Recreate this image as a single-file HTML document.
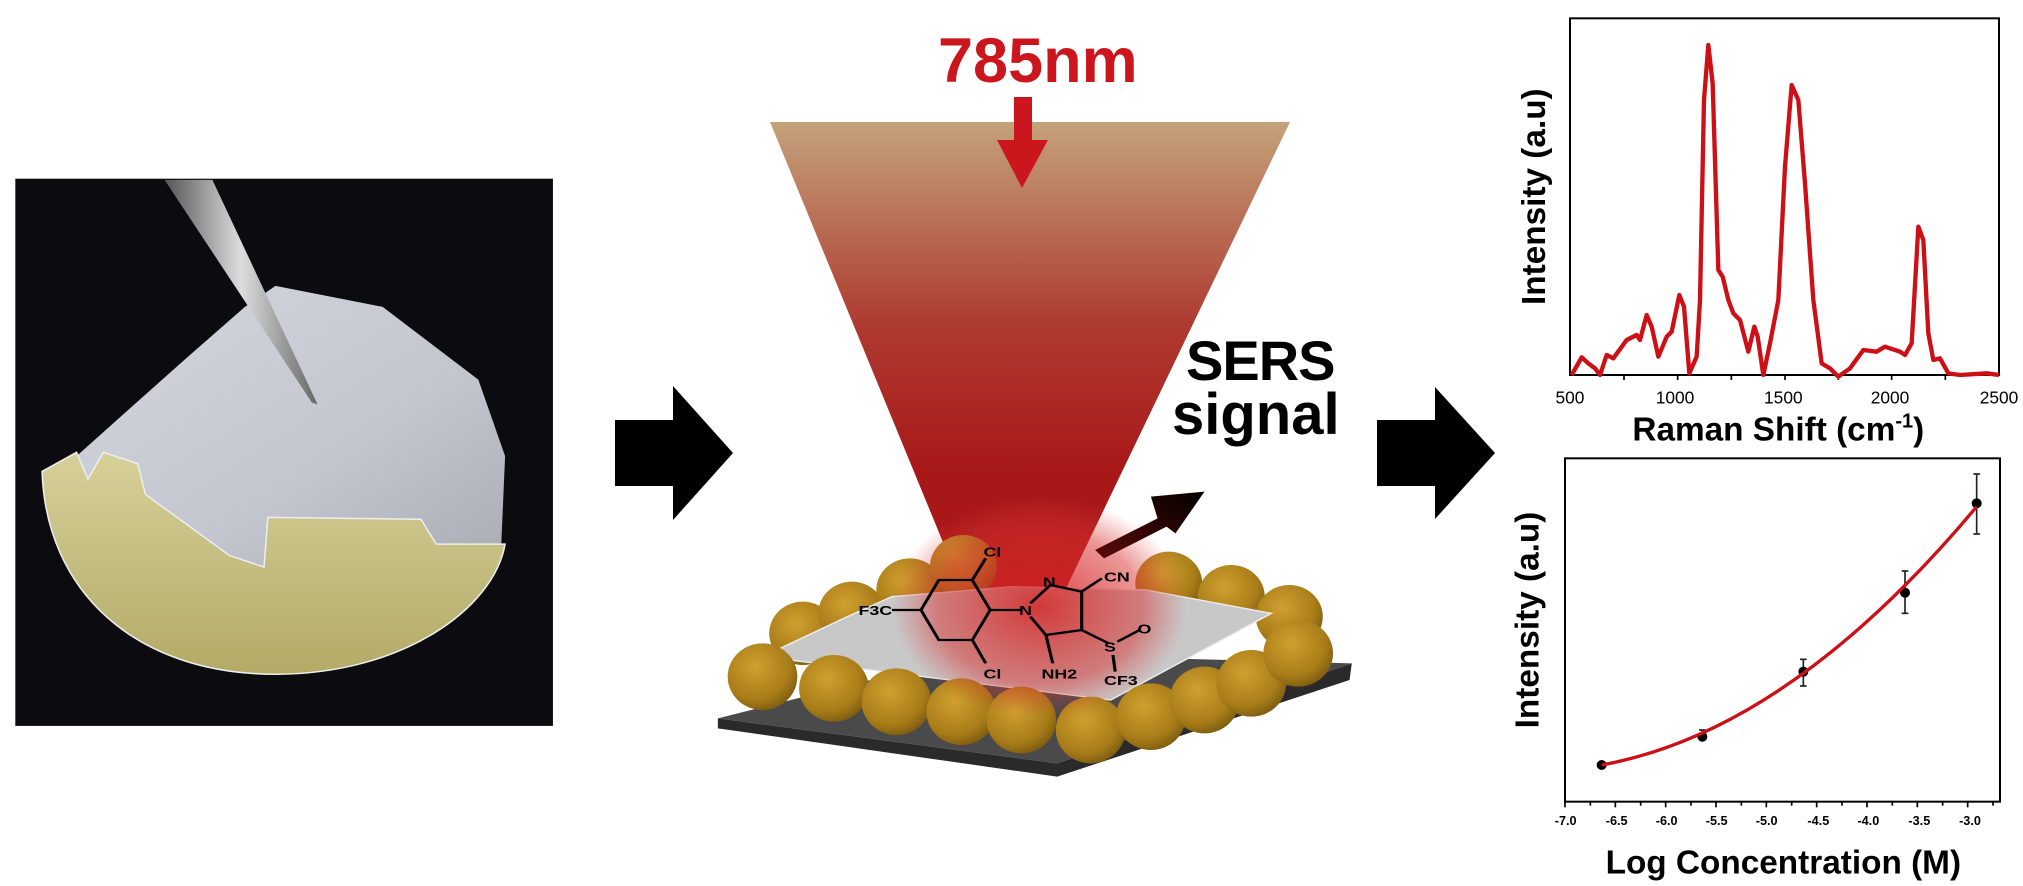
<!DOCTYPE html>
<html><head><meta charset="utf-8"><style>
html,body{margin:0;padding:0;background:#fff;}
body{width:2023px;height:886px;position:relative;overflow:hidden;font-family:"Liberation Sans",sans-serif;}
.abs{position:absolute;}
</style></head><body>

<!-- Photo -->
<svg class="abs" style="left:0;top:150px" width="600" height="600" viewBox="0 0 1568 1568">
<defs>
<linearGradient id="shell" x1="0" y1="0" x2="0" y2="1"><stop offset="0" stop-color="#d6d09a"/><stop offset="1" stop-color="#b3aa66"/></linearGradient>
<linearGradient id="mem" x1="0" y1="0" x2="1" y2="1"><stop offset="0" stop-color="#d4d7de"/><stop offset="0.6" stop-color="#c3c6cf"/><stop offset="1" stop-color="#a9acb5"/></linearGradient>
<linearGradient id="pen" x1="0" y1="0" x2="1" y2="0"><stop offset="0" stop-color="#555"/><stop offset="0.5" stop-color="#ddd"/><stop offset="1" stop-color="#666"/></linearGradient>
</defs>
<rect x="40" y="75" width="1405" height="1430" fill="#0b0b10"/>
<path d="M200,800 L480,550 L640,410 L720,355 L1000,410 L1250,600 L1320,800 L1310,1030 L1140,1030 L1100,965 L700,960 L690,1090 L600,1060 L380,900 L360,820 L270,790 L230,860 Z" fill="url(#mem)"/>
<path d="M110,840 L200,790 L230,860 L270,790 L360,820 L380,900 L600,1060 L690,1090 L700,960 L1100,965 L1140,1030 L1320,1030 C1290,1200 1050,1370 720,1370 C350,1370 120,1150 110,840 Z" fill="url(#shell)" stroke="#eee" stroke-width="4"/>
<polygon points="430,78 555,78 830,665 815,660" fill="url(#pen)"/>
</svg>

<!-- Big arrows -->
<svg class="abs" style="left:0;top:0" width="2023" height="886">
<polygon points="615,420 673,420 673,386 733,453 673,520 673,486 615,486" fill="#000"/>
<polygon points="1377,420 1435,420 1435,387 1495,453 1435,519 1435,486 1377,486" fill="#000"/>
<defs>
<linearGradient id="cone" gradientUnits="userSpaceOnUse" x1="0" y1="122" x2="0" y2="705"><stop offset="0" stop-color="#c4a27a"/><stop offset="0.35" stop-color="#ae3a30"/><stop offset="0.6" stop-color="#a81818"/><stop offset="1" stop-color="#b01418"/></linearGradient>
</defs>
<polygon points="770,122 1290,122 1010,705" fill="url(#cone)"/>
<rect x="1014" y="97" width="18" height="44" fill="#cc161d"/>
<polygon points="997,140 1048,140 1022,188" fill="#cc161d"/>
</svg>

<div class="abs" style="left:938px;top:30px;font-size:63px;font-weight:bold;color:#cc161d;line-height:1;">785nm</div>
<div class="abs" style="left:1186px;top:333px;font-size:56px;font-weight:bold;color:#000;line-height:1;letter-spacing:-1px;">SERS</div>
<div class="abs" style="left:1172px;top:386px;font-size:58px;font-weight:bold;color:#000;line-height:1;">signal</div>

<!-- Substrate scene (distorted frame) -->
<svg class="abs" style="left:700px;top:400px" width="700" height="380" viewBox="0 0 1568 1140" preserveAspectRatio="none">
<defs>
<radialGradient id="au" cx="0.4" cy="0.35" r="0.7"><stop offset="0" stop-color="#d0a030"/><stop offset="0.7" stop-color="#a87c18"/><stop offset="1" stop-color="#7a5a10"/></radialGradient>
<radialGradient id="glow" cx="0.5" cy="0.5" r="0.5"><stop offset="0" stop-color="#d42020" stop-opacity="0.85"/><stop offset="0.7" stop-color="#d83030" stop-opacity="0.5"/><stop offset="1" stop-color="#e04040" stop-opacity="0"/></radialGradient>
<linearGradient id="sarrow" x1="0" y1="1" x2="1" y2="0"><stop offset="0" stop-color="#5a0a0a"/><stop offset="1" stop-color="#000"/></linearGradient>
</defs>
<!-- slab -->
<polygon points="40,985 800,1130 1455,840 1460,790 800,1090 40,955" fill="#2a2a2a"/>
<polygon points="40,955 620,760 1460,790 800,1090" fill="#4a4a4a"/>
<!-- back spheres -->
<g fill="url(#au)">
<ellipse cx="230" cy="700" rx="75" ry="95"/>
<ellipse cx="340" cy="640" rx="75" ry="95"/>
<ellipse cx="470" cy="570" rx="75" ry="95"/>
<ellipse cx="590" cy="500" rx="75" ry="95"/>
<ellipse cx="1050" cy="550" rx="75" ry="95"/>
<ellipse cx="1190" cy="590" rx="75" ry="95"/>
<ellipse cx="1320" cy="650" rx="75" ry="95"/>
</g>
<polygon points="140,770 330,650 430,590 700,560 1000,570 1280,640 920,900" fill="#c8c8c8" stroke="#eee" stroke-width="4"/>
<g fill="url(#au)">
<ellipse cx="140" cy="830" rx="78" ry="100"/>
<ellipse cx="300" cy="865" rx="78" ry="100"/>
<ellipse cx="440" cy="905" rx="78" ry="100"/>
<ellipse cx="585" cy="935" rx="78" ry="100"/>
<ellipse cx="720" cy="960" rx="78" ry="100"/>
<ellipse cx="875" cy="990" rx="78" ry="100"/>
<ellipse cx="1010" cy="950" rx="78" ry="100"/>
<ellipse cx="1130" cy="900" rx="78" ry="100"/>
<ellipse cx="1235" cy="850" rx="78" ry="100"/>
<ellipse cx="1340" cy="760" rx="78" ry="100"/>
</g>
<ellipse cx="760" cy="620" rx="330" ry="330" fill="url(#glow)"/>
<!-- signal arrow -->
<polygon points="885,450 1025,355 1010,290 1130,275 1065,400 1045,380 905,475" fill="url(#sarrow)"/>
<!-- molecule -->
<g stroke="#000" stroke-width="7" fill="none">
<polygon points="535,540 610,540 650,630 610,720 535,720 495,630"/>
<line x1="610" y1="540" x2="640" y2="475"/>
<line x1="610" y1="720" x2="640" y2="790"/>
<line x1="495" y1="630" x2="430" y2="630"/>
<line x1="650" y1="630" x2="720" y2="630"/>
<polyline points="740,610 785,555 855,575 855,690 775,705 740,650"/>
<line x1="855" y1="575" x2="900" y2="535"/>
<line x1="855" y1="690" x2="915" y2="730"/>
<line x1="935" y1="725" x2="985" y2="690"/>
<line x1="925" y1="765" x2="930" y2="815"/>
<line x1="775" y1="705" x2="790" y2="790"/>
</g>
<g font-family="Liberation Sans,sans-serif" font-weight="bold" font-size="40" fill="#000">
<text x="635" y="470">Cl</text>
<text x="635" y="835">Cl</text>
<text x="355" y="645">F3C</text>
<text x="715" y="645">N</text>
<text x="768" y="560">N</text>
<text x="905" y="545">CN</text>
<text x="905" y="755">S</text>
<text x="980" y="700">O</text>
<text x="905" y="855">CF3</text>
<text x="765" y="835">NH2</text>
</g>
</svg>

<!-- Chart 1 -->
<svg class="abs" style="left:1500px;top:0" width="523" height="450" viewBox="0 0 1569 1350" font-family="Liberation Sans,sans-serif">
<rect x="210" y="55" width="1287" height="1070" fill="none" stroke="#000" stroke-width="6"/>
<g stroke="#000" stroke-width="5">
<line x1="372" y1="1125" x2="372" y2="1140"/><line x1="533" y1="1125" x2="533" y2="1140"/><line x1="694" y1="1125" x2="694" y2="1140"/><line x1="855" y1="1125" x2="855" y2="1140"/><line x1="1015" y1="1125" x2="1015" y2="1140"/><line x1="1175" y1="1125" x2="1175" y2="1140"/><line x1="1336" y1="1125" x2="1336" y2="1140"/>
</g>
<polyline fill="none" stroke="#cc1016" stroke-width="13" stroke-linejoin="round" points="215,1125 245,1072 265,1090 285,1105 300,1125 320,1065 340,1075 380,1020 410,1005 420,1020 440,945 455,980 475,1070 500,1010 515,995 538,885 552,920 568,1120 590,1070 600,900 612,300 625,135 638,250 655,810 668,830 685,900 700,940 720,960 745,1055 763,980 773,1010 790,1125 810,1030 835,900 855,500 875,255 895,300 915,550 940,900 965,1090 990,1105 1015,1130 1050,1105 1090,1050 1130,1055 1155,1040 1200,1055 1215,1065 1235,1030 1255,680 1270,720 1285,1000 1300,1080 1320,1075 1345,1120 1380,1125 1460,1120 1497,1125"/>
<g font-size="52" text-anchor="middle" fill="#000">
<text x="210" y="1210">500</text><text x="525" y="1210">1000</text><text x="850" y="1210">1500</text><text x="1170" y="1210">2000</text><text x="1497" y="1210">2500</text>
</g>
<text x="835" y="1322" font-size="100" font-weight="bold" text-anchor="middle">Raman Shift (cm<tspan font-size="60" dy="-40">-1</tspan><tspan dy="40">)</tspan></text>
<text transform="translate(135,590) rotate(-90)" font-size="100" font-weight="bold" text-anchor="middle">Intensity (a.u)</text>
</svg>

<!-- Chart 2 -->
<svg class="abs" style="left:1500px;top:440px" width="523" height="446" viewBox="0 0 1569 1338" font-family="Liberation Sans,sans-serif">
<rect x="195" y="55" width="1305" height="1030" fill="none" stroke="#000" stroke-width="6"/>
<g stroke="#000" stroke-width="5">
<line x1="195" y1="1085" x2="195" y2="1102"/><line x1="271" y1="1085" x2="271" y2="1097"/><line x1="346" y1="1085" x2="346" y2="1102"/><line x1="422" y1="1085" x2="422" y2="1097"/><line x1="497" y1="1085" x2="497" y2="1102"/><line x1="573" y1="1085" x2="573" y2="1097"/><line x1="648" y1="1085" x2="648" y2="1102"/><line x1="724" y1="1085" x2="724" y2="1097"/><line x1="799" y1="1085" x2="799" y2="1102"/><line x1="875" y1="1085" x2="875" y2="1097"/><line x1="950" y1="1085" x2="950" y2="1102"/><line x1="1026" y1="1085" x2="1026" y2="1097"/><line x1="1101" y1="1085" x2="1101" y2="1102"/><line x1="1177" y1="1085" x2="1177" y2="1097"/><line x1="1252" y1="1085" x2="1252" y2="1102"/><line x1="1328" y1="1085" x2="1328" y2="1097"/><line x1="1403" y1="1085" x2="1403" y2="1102"/><line x1="1479" y1="1085" x2="1479" y2="1097"/>
</g>
<g font-size="38" font-weight="bold" text-anchor="middle" fill="#000">
<text x="197" y="1155">-7.0</text><text x="350" y="1155">-6.5</text><text x="500" y="1155">-6.0</text><text x="650" y="1155">-5.5</text><text x="800" y="1155">-5.0</text><text x="955" y="1155">-4.5</text><text x="1105" y="1155">-4.0</text><text x="1258" y="1155">-3.5</text><text x="1410" y="1155">-3.0</text>
</g>
<g stroke="#222" stroke-width="5">
<line x1="607" y1="870" x2="607" y2="905"/><line x1="597" y1="870" x2="617" y2="870"/>
<line x1="910" y1="658" x2="910" y2="738"/><line x1="900" y1="658" x2="920" y2="658"/><line x1="900" y1="738" x2="920" y2="738"/>
<line x1="1215" y1="393" x2="1215" y2="520"/><line x1="1205" y1="393" x2="1225" y2="393"/><line x1="1205" y1="520" x2="1225" y2="520"/>
<line x1="1430" y1="102" x2="1430" y2="282"/><line x1="1420" y1="102" x2="1440" y2="102"/><line x1="1420" y1="282" x2="1440" y2="282"/>
</g>
<g fill="#000"><circle cx="305" cy="975" r="15"/><circle cx="607" cy="890" r="15"/><circle cx="910" cy="695" r="15"/><circle cx="1215" cy="458" r="15"/><circle cx="1430" cy="190" r="15"/></g>
<path d="M305,975 Q867.5,872.6 1430,200" fill="none" stroke="#cc1016" stroke-width="10"/>
<text x="850" y="1300" font-size="100" font-weight="bold" text-anchor="middle">Log Concentration (M)</text>
<text transform="translate(115,540) rotate(-90)" font-size="100" font-weight="bold" text-anchor="middle">Intensity (a.u)</text>
</svg>

</body></html>
